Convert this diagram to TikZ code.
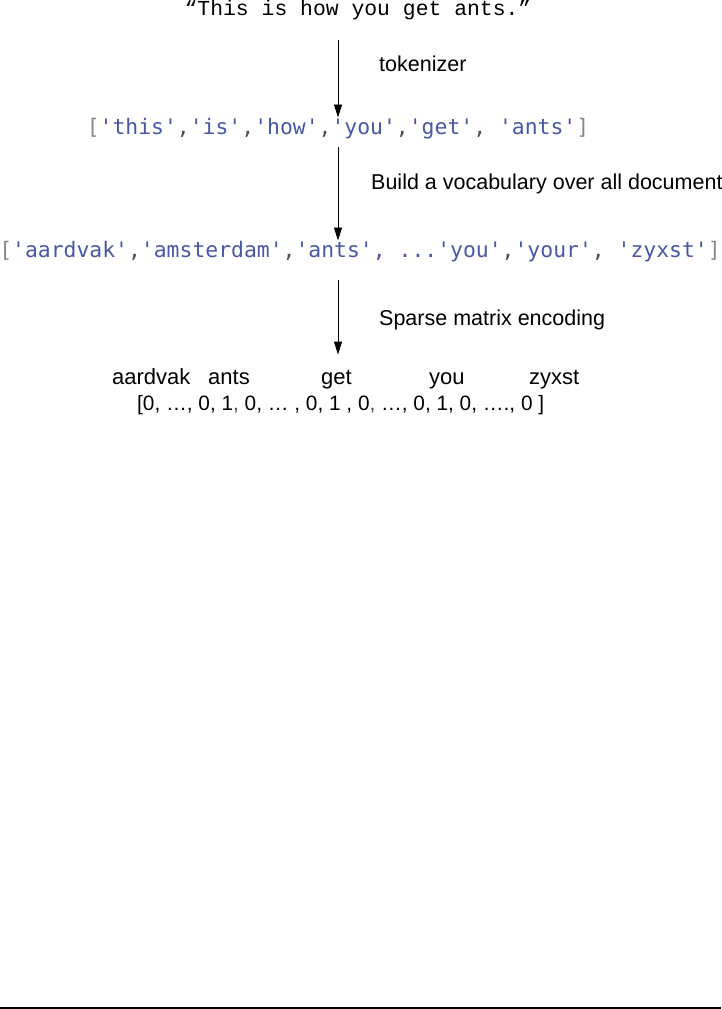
\documentclass[tikz,border=0pt]{standalone}
\usepackage{fontspec}
\usepackage{xcolor}
\usepackage{tikz}
\usetikzlibrary{arrows.meta,positioning}
\setmainfont{Liberation Sans}
\newfontfamily\quotefont{Liberation Mono}
\newfontfamily\listfont{DejaVu Sans Mono}[Ligatures=TeXOff]
\definecolor{tokblue}{RGB}{72,88,164}
\definecolor{brgray}{RGB}{136,136,136}
\definecolor{cmgray}{RGB}{80,80,80}
\newcommand{\tw}[1]{{\color{tokblue}'#1'}}
\newcommand{\cm}{{\color{cmgray},}}

\begin{document}
\begin{tikzpicture}[
    x=1pt, y=-1pt,
    plain/.style={inner sep=0pt, font=\fontsize{21.5}{25}\selectfont},
    word/.style={inner sep=0pt, anchor=base west, font=\fontsize{22}{26}\selectfont},
    listbox/.style={inner sep=0pt, font=\fontsize{21.4}{25}\listfont},
    arrow/.style={-{Triangle[length=13pt, width=8pt]}, line width=0.9pt}
]
\useasboundingbox (0,0) rectangle (721,1009);
\node[inner sep=0pt, font=\fontsize{21.4}{25}\quotefont, anchor=base] (quote) at (358,16) {“This is how you get ants.”};
\node[listbox, anchor=base] (toks) at (338,134) {{\color{brgray}[}\tw{this}\cm\tw{is}\cm\tw{how}\cm\tw{you}\cm\tw{get}\cm{} \tw{ants}{\color{brgray}]}};
\node[listbox, anchor=base] (vocab) at (360,257) {{\color{brgray}[}\tw{aardvak}\cm\tw{amsterdam}\cm\tw{ants}{\color{tokblue}, ...}\tw{you}\cm\tw{your}\cm{} \tw{zyxst}{\color{brgray}]}};
% step labels
\node[plain, anchor=base west] (toklabel) at (379,71) {tokenizer};
\node[plain, anchor=base west] (voclabel) at (371,189) {Build a vocabulary over all documents};
\node[plain, anchor=base west] (enclabel) at (379,325) {Sparse matrix encoding};
% sparse vector
\node[word] (naardvak) at (112,384) {aardvak};
\node[word] (nants) at (208,384) {ants};
\node[word] (nget) at (321,384) {get};
\node[word] (nyou) at (429,384) {you};
\node[word] (nzyxst) at (529,384) {zyxst};
\node[inner sep=0pt, font=\fontsize{20.8}{25}\selectfont, anchor=base west] (vec) at (137,410) {[0, …, 0, 1{\color{cmgray},} 0, … , 0, 1 , 0{\color{cmgray},} …, 0, 1, 0, …., 0 ]};
% arrows
\coordinate (a1) at (338,40);
\coordinate (a2) at (338,147);
\coordinate (a3) at (338,280);
\draw[arrow] (a1) -- (a1 |- toks.north);
\draw[arrow] (a2) -- (a2 |- vocab.north);
\draw[arrow, shorten >=15pt] (a3) -- (a3 |- nget.north);
\coordinate (bl) at (0,1008);
\coordinate (br) at (721,1008);
\draw[line width=1.2pt] (bl) -- (br);
\end{tikzpicture}
\end{document}
